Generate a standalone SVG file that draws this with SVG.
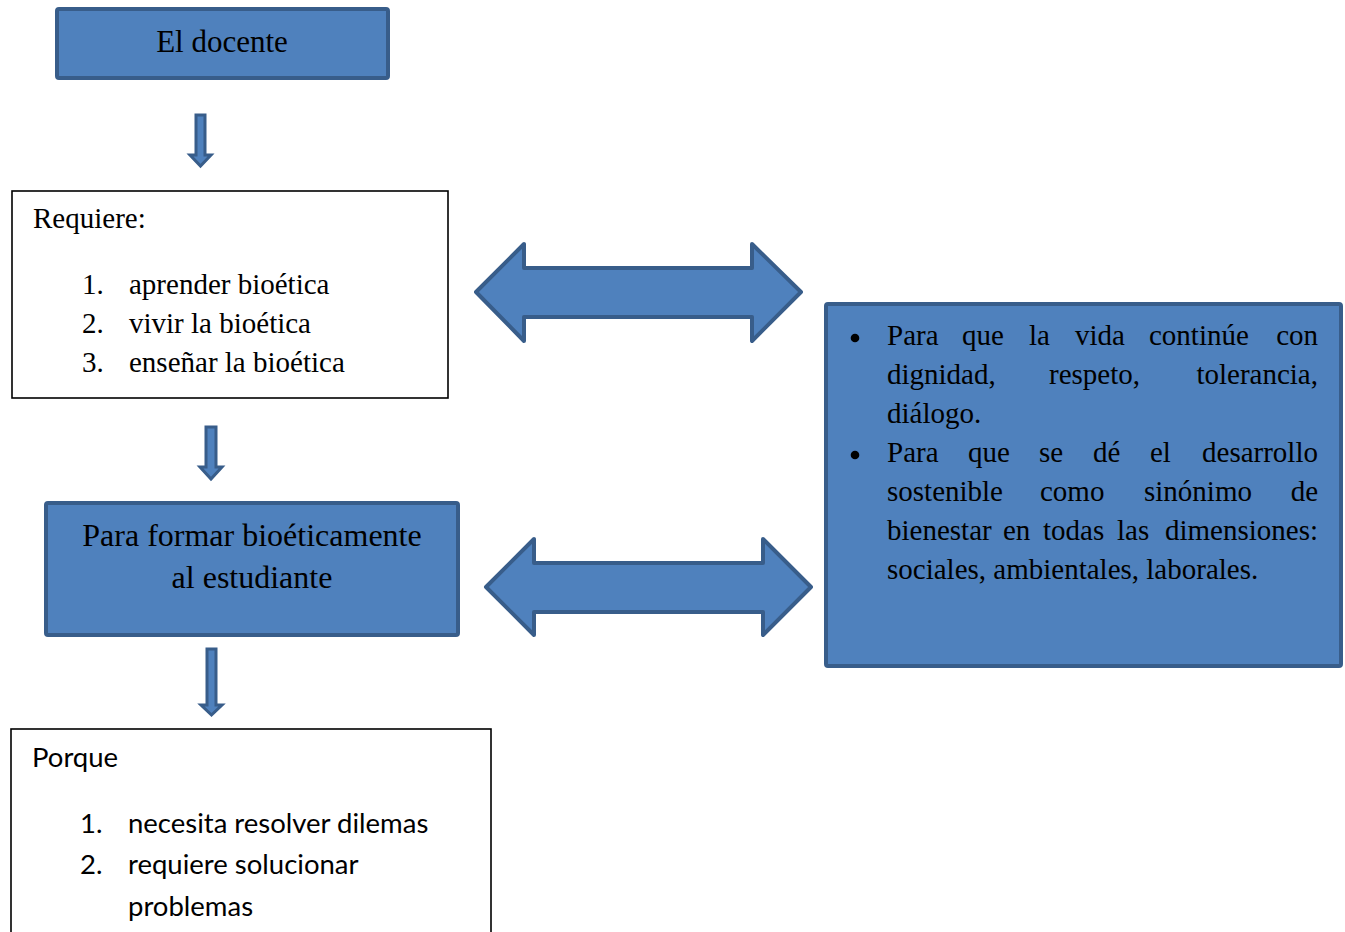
<svg xmlns="http://www.w3.org/2000/svg" width="1345" height="932" viewBox="0 0 1345 932">
<style>
.blue{fill:#4f81bd;stroke:#385d8a;stroke-width:4;stroke-linejoin:round}
.white{fill:#ffffff;stroke:#000000;stroke-width:1.6}
.arr{fill:#4f81bd;stroke:#385d8a;stroke-width:4;stroke-linejoin:round}
.darr{fill:#4f81bd;stroke:#385d8a;stroke-width:3;stroke-linejoin:miter}
.tm{font-family:"Liberation Serif","Times New Roman",serif;fill:#000}
.cb{font-family:Lato,"Open Sans",sans-serif;fill:#000}
.r{font-family:"Liberation Serif","Times New Roman",serif;fill:#000;font-size:29px}
.e{text-anchor:end}
</style>
<rect width="1345" height="932" fill="#ffffff"/>
<g id="node-docente">
<rect class="blue" x="57" y="9" width="331" height="69" rx="2"/>
<text class="tm" x="222" y="52" font-size="31" text-anchor="middle">El docente</text>
</g>
<g id="node-requiere">
<rect class="white" x="12" y="191" width="436" height="207"/>
<text class="tm" x="33" y="228" font-size="29">Requiere:</text>
<text class="tm" x="82" y="294" font-size="29">1.</text>
<text class="tm" x="129" y="294" font-size="29">aprender bioética</text>
<text class="tm" x="82" y="333" font-size="29">2.</text>
<text class="tm" x="129" y="333" font-size="29">vivir la bioética</text>
<text class="tm" x="82" y="372" font-size="29">3.</text>
<text class="tm" x="129" y="372" font-size="29">enseñar la bioética</text>
</g>
<g id="node-formar">
<rect class="blue" x="46" y="503" width="412" height="132" rx="2"/>
<text class="tm" x="252" y="546" font-size="32" text-anchor="middle">Para formar bioéticamente</text>
<text class="tm" x="252" y="588" font-size="32" text-anchor="middle">al estudiante</text>
</g>
<g id="node-para-que">
<rect class="blue" x="826" y="304" width="515" height="362" rx="2"/>
<circle cx="855" cy="338" r="4.3" fill="#000"/>
<circle cx="855" cy="455" r="4.3" fill="#000"/>
<text class="r" y="345"><tspan x="887">Para</tspan><tspan x="962">que</tspan><tspan x="1029">la</tspan><tspan x="1075">vida</tspan><tspan x="1149">continúe</tspan></text>
<text class="r e" x="1318" y="345">con</text>
<text class="r" y="384"><tspan x="887">dignidad,</tspan><tspan x="1049">respeto,</tspan></text>
<text class="r e" x="1318" y="384">tolerancia,</text>
<text class="r" x="887" y="423">diálogo.</text>
<text class="r" y="462"><tspan x="887">Para</tspan><tspan x="968">que</tspan><tspan x="1039">se</tspan><tspan x="1093">dé</tspan><tspan x="1150">el</tspan></text>
<text class="r e" x="1318" y="462">desarrollo</text>
<text class="r" y="501"><tspan x="887">sostenible</tspan><tspan x="1040">como</tspan><tspan x="1144">sinónimo</tspan></text>
<text class="r e" x="1318" y="501">de</text>
<text class="r" y="540"><tspan x="887">bienestar</tspan><tspan x="1003">en</tspan><tspan x="1043">todas</tspan><tspan x="1117">las</tspan></text>
<text class="r e" x="1318" y="540">dimensiones:</text>
<text class="r" x="887" y="579">sociales, ambientales, laborales.</text>
</g>
<g id="node-porque">
<rect class="white" x="11" y="729" width="480" height="215"/>
<text class="cb" x="32" y="767" font-size="27.5">Porque</text>
<text class="cb" x="80" y="833" font-size="27.5">1.</text>
<text class="cb" x="128" y="833" font-size="27.5">necesita resolver dilemas</text>
<text class="cb" x="80" y="874" font-size="27.5">2.</text>
<text class="cb" x="128" y="874" font-size="27.5">requiere solucionar</text>
<text class="cb" x="128" y="916" font-size="27.5">problemas</text>
</g>
<g id="connectors">
<polygon class="darr" points="196,115 205,115 205,155 211,155 200.5,166 190,155 196,155"/>
<polygon class="darr" points="206,427 216,427 216,467 222,467 211,479 200,467 206,467"/>
<polygon class="darr" points="207,649 216,649 216,705 222,705 211.5,715 201,705 207,705"/>
<polygon class="arr" points="476,292 524,244 524,268 752,268 752,244 801,292 752,341 752,317 524,317 524,341"/>
<polygon class="arr" points="486,587 534,539 534,563 763,563 763,539 811,587 763,635 763,612 534,612 534,635"/>
</g>
</svg>
